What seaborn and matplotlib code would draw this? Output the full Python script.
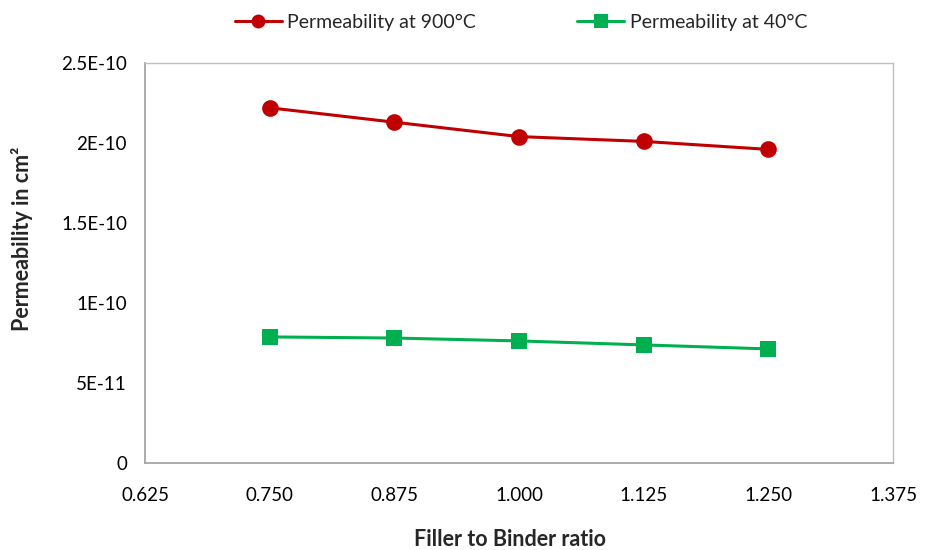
import matplotlib
matplotlib.use("Agg")
import matplotlib.pyplot as plt
import seaborn as sns
import pandas as pd

# Filler-to-binder ratios and measured permeabilities (cm^2)
ratios = [0.750, 0.875, 1.000, 1.125, 1.250]
perm_900 = [2.22e-10, 2.13e-10, 2.04e-10, 2.01e-10, 1.96e-10]
perm_40 = [7.88e-11, 7.81e-11, 7.63e-11, 7.38e-11, 7.13e-11]

series_names = ["Permeability at 900°C", "Permeability at 40°C"]
series_colors = ["#C00000", "#00B050"]

x_ticks = [0.625, 0.750, 0.875, 1.000, 1.125, 1.250, 1.375]
x_tick_labels = ["0.625", "0.750", "0.875", "1.000", "1.125", "1.250", "1.375"]
y_ticks = [0, 5e-11, 1e-10, 1.5e-10, 2e-10, 2.5e-10]
y_tick_labels = ["0", "5E-11", "1E-10", "1.5E-10", "2E-10", "2.5E-10"]

df = pd.DataFrame({
    "ratio": ratios + ratios,
    "perm": perm_900 + perm_40,
    "series": [series_names[0]] * len(ratios) + [series_names[1]] * len(ratios),
})

sns.set_style("white")
plt.rcParams["font.family"] = ["Lato", "DejaVu Sans"]

fig = plt.figure(figsize=(9.3, 5.5), dpi=100)
ax = fig.add_axes([145 / 930, 1 - 463 / 550, (893 - 145) / 930, (463 - 63) / 550])

sns.lineplot(
    data=df, x="ratio", y="perm", hue="series", style="series",
    hue_order=series_names, style_order=series_names,
    palette=series_colors, markers={series_names[0]: "o", series_names[1]: "s"},
    dashes=False, linewidth=2.2, markersize=11, markeredgewidth=0,
    ax=ax,
)
for line in ax.lines:
    if line.get_marker() == "o":
        line.set_markersize(12)

ax.set_xlim(0.625, 1.375)
ax.set_ylim(0, 2.5e-10)
ax.set_xticks(x_ticks)
ax.set_xticklabels(x_tick_labels)
ax.set_yticks(y_ticks)
ax.set_yticklabels(y_tick_labels)

axis_gray = "#A6A6A6"
for side in ["left", "bottom", "top", "right"]:
    ax.spines[side].set_visible(True)
    ax.spines[side].set_color("#BFBFBF" if side in ("top", "right") else axis_gray)
    ax.spines[side].set_linewidth(1.0 if side in ("top", "right") else 1.3)
ax.tick_params(axis="both", which="major", direction="out", length=5, width=1.3,
               color=axis_gray, labelsize=13.5, labelcolor="#000000", pad=8)
ax.tick_params(axis="x", pad=12)

ax.set_xlabel("Filler to Binder ratio", fontsize=15.5, fontweight="bold")
ax.set_ylabel("Permeability in cm²", fontsize=15.5, fontweight="bold")
ax.xaxis.label.set_va("center")
ax.yaxis.label.set_va("center")
ax.xaxis.set_label_coords((510 - 145) / 748, -(540 - 463) / 400)
ax.yaxis.set_label_coords(-(145 - 22) / 748, (463 - 239) / 400)

handles, labels = ax.get_legend_handles_labels()
for h in handles:
    h.set_markersize(10)
ax.legend(handles, labels, loc="center", bbox_to_anchor=(521 / 930, 1 - 22 / 550),
          bbox_transform=fig.transFigure, ncol=2, frameon=False, fontsize=14,
          columnspacing=5.2, handlelength=2.4, handletextpad=0.3)

fig.savefig("out.png", dpi=100)
